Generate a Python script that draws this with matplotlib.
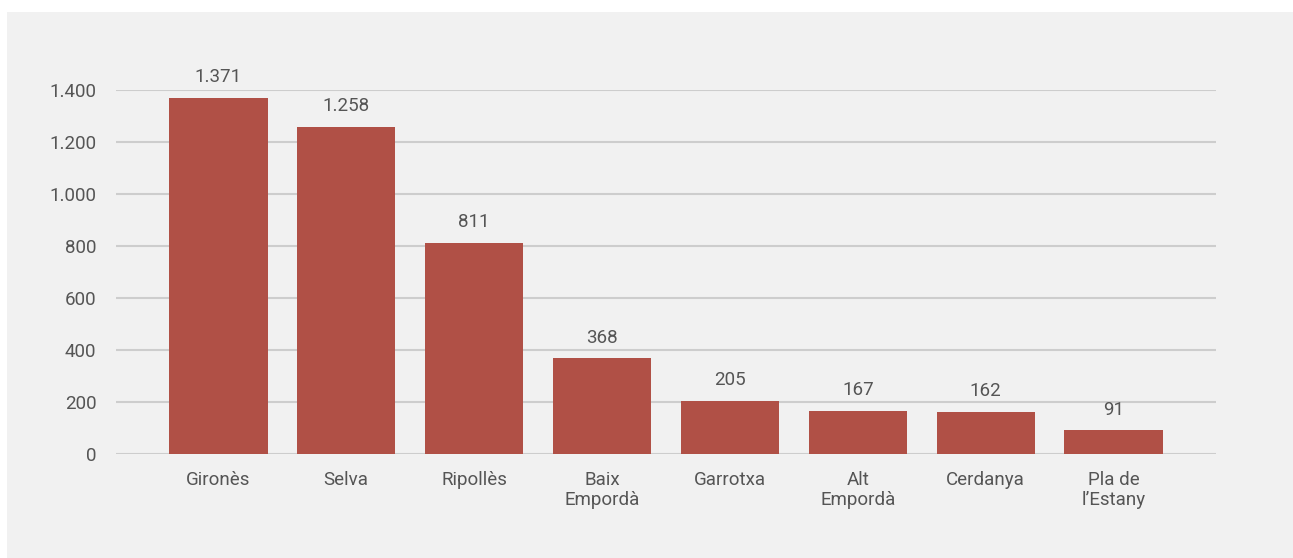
from matplotlib import pyplot as plt
from matplotlib.patches import Rectangle

comarques = ["Gironès", "Selva", "Ripollès", "Baix\nEmpordà", "Garrotxa",
             "Alt\nEmpordà", "Cerdanya", "Pla de\nl’Estany"]
valors = [1371, 1258, 811, 368, 205, 167, 162, 91]
yticks = [0, 200, 400, 600, 800, 1000, 1200, 1400]


def fmt(v):
	return "{:,}".format(v).replace(",", ".")


def main():
	plt.rcParams['font.family'] = ['Roboto', 'DejaVu Sans']
	txt = "#555555"
	f = plt.figure(figsize=(12.93, 5.58), dpi=100)
	f.patch.set_facecolor("white")
	# gray panel behind everything
	f.patches.append(Rectangle((7 / 1293, 0), 1, 1 - 12 / 558, transform=f.transFigure,
	                           facecolor="#f1f1f1", edgecolor="none", zorder=-10))
	ax = f.add_axes([116 / 1293, 1 - 454 / 558, 1100 / 1293, 364 / 558])
	ax.set_facecolor("none")

	x = range(len(comarques))
	ax.bar(x, valors, width=0.77, color="#b05046", zorder=3)
	for i, v in enumerate(valors):
		ax.text(i, v + 45, fmt(v), ha="center", va="bottom", fontsize=13.5, color=txt)

	ax.set_xlim(-0.8, 7.8)
	ax.set_ylim(0, 1400)
	ax.set_yticks(yticks)
	ax.set_yticklabels([fmt(t) for t in yticks], fontsize=13.5, color=txt)
	ax.set_xticks(list(x))
	ax.set_xticklabels(comarques, fontsize=13.5, color=txt, linespacing=1.15)
	ax.tick_params(axis="both", length=0)
	ax.tick_params(axis="x", pad=12)
	ax.tick_params(axis="y", pad=14)
	ax.grid(axis="y", color="#cdcdcd", linewidth=1.5, zorder=0)
	for s in ax.spines.values():
		s.set_visible(False)

	plt.savefig("out.png", dpi=100)


if __name__ == '__main__':
	main()
